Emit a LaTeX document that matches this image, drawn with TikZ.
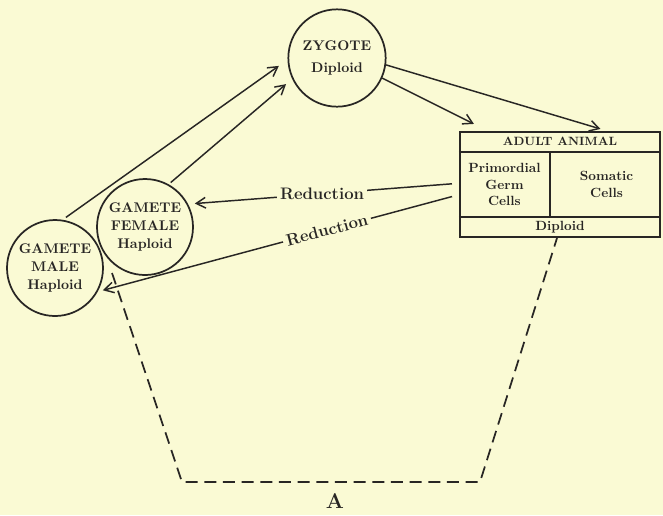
\documentclass[tikz,border=0pt]{standalone}
\usetikzlibrary{arrows.meta,calc}
\definecolor{paper}{RGB}{250,250,212}
\definecolor{ink}{RGB}{40,38,36}
\begin{document}
\begin{tikzpicture}[x=0.75pt,y=-0.75pt,
  every node/.style={text=ink},
  cell/.style={circle,draw=ink,line width=1.3pt,minimum size=72pt,inner sep=0pt,
    align=center,font=\fontsize{10.5}{13.5}\selectfont\bfseries},
  arr/.style={draw=ink,line width=1.1pt,
    -{Straight Barb[length=7pt,width=8pt,line width=1.1pt]}},
  lbl/.style={fill=paper,inner sep=2.5pt,font=\fontsize{12.5}{14}\selectfont\bfseries},
  boxtext/.style={align=center,inner sep=0pt,font=\fontsize{10}{12.5}\selectfont\bfseries},
  rule/.style={draw=ink,line width=1pt},
  cycle/.style={draw=ink,line width=1.3pt,dash pattern=on 9pt off 5pt}
]
\fill[paper] (0,0) rectangle (663,515);
\useasboundingbox (0,0) rectangle (663,515);

% cells of the life cycle
\node[cell,minimum size=73pt] (zyg) at (337,58) {ZYGOTE\\[3pt]Diploid};
\node[cell] (fem) at (145,227) {GAMETE\\FEMALE\\Haploid};
\node[cell] (mal) at (55,268) {GAMETE\\MALE\\Haploid};

% the adult animal table
\node[draw=ink,line width=1.6pt,minimum width=150pt,minimum height=78.75pt,inner sep=0pt]
  (adult) at (560,184.5) {};
\draw[rule] ($(adult.north west)+(0,21)$) -- ($(adult.north east)+(0,21)$);
\draw[rule] ($(adult.south west)+(0,-21)$) -- ($(adult.south east)+(0,-21)$);
\draw[rule] ($(adult.north west)+(91,21)$) -- ($(adult.south west)+(91,-21)$);
\node[boxtext,font=\fontsize{9}{11}\selectfont\bfseries] (head) at ($(adult.north)+(0,10.5)$) {ADULT ANIMAL};
\node[boxtext] (germ) at ($(adult.west)+(45.5,0)$) {Primordial\\Germ\\Cells};
\node[boxtext] (soma) at ($(adult.east)+(-54.5,0)$) {Somatic\\Cells};
\node[boxtext] (dip) at ($(adult.south)+(0,-10.5)$) {Diploid};

% fertilisation and development
\draw[arr,shorten <=3pt,shorten >=8pt] (mal.81) -- (zyg.182);
\draw[arr,shorten <=2pt,shorten >=6pt] (fem.61) -- (zyg.205);
\draw[arr] (zyg.-8) -- ($(adult.north west)!0.7!(adult.north east)+(0,-2)$);
\draw[arr] (zyg.-24) -- ($(adult.north west)+(15,-7)$);

% reduction divisions
\draw[arr,shorten <=3pt,shorten >=5pt] ($(adult.west)+(-3,-1)$) -- (fem.28)
  node[lbl,pos=0.5] (r1) {Reduction};
\draw[arr,shorten <=3pt,shorten >=4pt] ($(adult.west)+(-3,11)$) -- (mal.-29)
  node[lbl,pos=0.36,sloped] (r2) {Reduction};

% the continuous germ line
\coordinate (gl) at (112,273);
\coordinate (bl) at (182,482);
\coordinate (br) at (480,482);
\draw[cycle] (gl) -- (bl) -- (br) -- ($(adult.south)+(-3,0)$);
\node[font=\fontsize{16}{18}\selectfont\bfseries] (a) at (335,501) {A};
\end{tikzpicture}
\end{document}
